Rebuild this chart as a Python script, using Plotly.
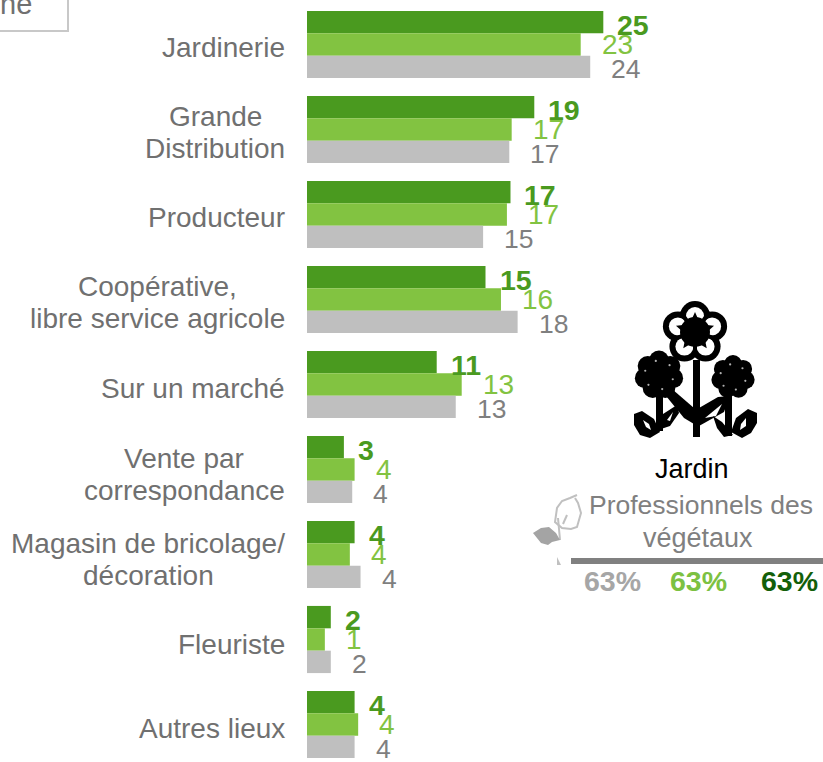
import math
import plotly.graph_objects as go

W, H = 823, 762
categories = ["Jardinerie", "Grande<br>Distribution", "Producteur",
              "Coopérative,<br>libre service agricole", "Sur un marché",
              "Vente par<br>correspondance", "Magasin de bricolage/<br>décoration",
              "Fleuriste", "Autres lieux"]
dark_values = [24.9, 19.1, 17.1, 15.0, 10.9, 3.1, 4.0, 2.0, 4.0]
light_values = [23.0, 17.2, 16.8, 16.3, 13.0, 4.0, 3.6, 1.5, 4.3]
gray_values = [23.8, 17.0, 14.8, 17.7, 12.5, 3.8, 4.5, 2.0, 4.0]
dark_labels = ["25", "19", "17", "15", "11", "3", "4", "2", "4"]
light_labels = ["23", "17", "17", "16", "13", "4", "4", "1", "4"]
gray_labels = ["24", "17", "15", "18", "13", "4", "4", "2", "4"]

DARK, LIGHT, GRAY = "#4a9a1f", "#82c341", "#bfbfbf"
FONT = "Liberation Sans"
PXU = 11.9
X0 = 307

fig = go.Figure()
for vals, col, name in [(dark_values, DARK, "Série 1"), (light_values, LIGHT, "Série 2"), (gray_values, GRAY, "Série 3")]:
    fig.add_trace(go.Bar(y=categories, x=vals, orientation="h", marker=dict(color=col, line=dict(width=0)),
                         name=name, showlegend=False, hoverinfo="skip"))

ann = []
cat_shift = [-2.5, -2.5, -2.5, -2.5, -3.5, -4.5, -4.5, -5, -3.5]
block_center = [None, 215, None, 157, None, 184, 148, None, None]
LABEL = dict(family=FONT, size=28, color="#707070")
for c, s, bc in zip(categories, cat_shift, block_center):
    lines = c.split("<br>")
    if bc is None:
        ann.append(dict(x=0, y=c, xref="x", yref="y", text=c, showarrow=False, xanchor="right", yanchor="middle",
                        xshift=-20, yshift=s, font=LABEL))
    else:
        for i, t in enumerate(lines):
            ann.append(dict(x=0, y=c, xref="x", yref="y", text=t, showarrow=False, xanchor="center", yanchor="middle",
                            xshift=bc - X0, yshift=s + 16 - 32 * i, font=LABEL))
for labels, vals, col, bold, dx, dy, size in [
    (dark_labels, dark_values, DARK, True, 12, 19.5, 28.5),
    (light_labels, light_values, LIGHT, False, 19, 0, 28),
    (gray_labels, gray_values, "#7f7f7f", False, 19, -24, 26.5),
]:
    for c, v, t in zip(categories, vals, labels):
        txt_ = f"<b>{t}</b>" if bold else t
        ann.append(dict(x=v, y=c, xref="x", yref="y", text=txt_, showarrow=False, xanchor="left", yanchor="middle",
                        xshift=dx, yshift=dy, font=dict(family=FONT, size=size, color=col)))

def txt(x, y, t, size, col, anchor="center"):
    ann.append(dict(x=x / W, y=1 - y / H, xref="paper", yref="paper", text=t, showarrow=False,
                    xanchor=anchor, yanchor="middle", font=dict(family=FONT, size=size, color=col)))

txt(701, 505, "Professionnels des", 26.5, "#808080")
txt(698, 538, "végétaux", 27, "#808080")
txt(692, 469, "Jardin", 27, "#000000")
txt(612, 581, "<b>63%</b>", 28.5, "#a6a6a6")
txt(698, 581, "<b>63%</b>", 28.5, "#7cc142")
txt(789, 581, "<b>63%</b>", 28.5, "#135f0a")
txt(34, 4, "ne", 29, "#707070", "right")

shapes = []
def px(x): return x / W
def py(y): return 1 - y / H
def rect(x0, y0, x1, y1, col):
    shapes.append(dict(type="rect", xref="paper", yref="paper", x0=px(x0), x1=px(x1), y0=py(y1), y1=py(y0),
                       fillcolor=col, line=dict(width=0), layer="above"))
def circ(cx, cy, r, col):
    shapes.append(dict(type="circle", xref="paper", yref="paper", x0=px(cx - r), x1=px(cx + r), y0=py(cy + r), y1=py(cy - r),
                       fillcolor=col, line=dict(width=0), layer="above"))
def poly(pts, col, lw=0, lc=None, close=True):
    d = "M " + " L ".join(f"{px(a):.5f},{py(b):.5f}" for a, b in pts) + (" Z" if close else "")
    shapes.append(dict(type="path", xref="paper", yref="paper", path=d, fillcolor=col if close else "rgba(0,0,0,0)",
                       line=dict(width=lw, color=lc or col), layer="above"))

# top-left box and bar under the caption
poly([(68, -2), (68, 31), (-2, 31)], "#c8c8c8", 2, "#c8c8c8", close=False)
rect(571, 558, 823, 564, "#808080")
poly([(557, 557), (561, 565), (557, 565)], "#c0c0c0")

# flower icon: top flower
K = "#000000"
WH = "#ffffff"
petals = [(-90, 16), (-18, 18), (54, 18), (126, 18), (198, 18)]
for a, d in petals:
    cx = 695 + d * math.cos(math.radians(a)); cy = 332 + d * math.sin(math.radians(a))
    circ(cx, cy, 15, K)
for a, d in petals:
    cx = 695 + d * math.cos(math.radians(a)); cy = 332 + d * math.sin(math.radians(a))
    circ(cx, cy, 9, WH)
circ(695, 332, 15, K)
for a, d in petals:
    poly([(695 + 10 * math.cos(math.radians(a - 30)), 332 + 10 * math.sin(math.radians(a - 30))),
          (695 + 20 * math.cos(math.radians(a)), 332 + 20 * math.sin(math.radians(a))),
          (695 + 10 * math.cos(math.radians(a + 30)), 332 + 10 * math.sin(math.radians(a + 30)))], K)
    poly([(695, 332), (695 + 25 * math.cos(math.radians(a + 36)), 332 + 25 * math.sin(math.radians(a + 36)))], K, 4, K, close=False)
# side flowers
for cx, cy, r in [(659, 375, 24), (733, 377, 21.5)]:
    for i in range(7):
        a = i * 2 * math.pi / 7 - math.pi / 2
        circ(cx + r * 0.6 * math.cos(a), cy + r * 0.6 * math.sin(a), r * 0.42, K)
    circ(cx, cy, r * 0.7, K)
    for i in range(6):
        a = i * 2 * math.pi / 6 + 0.3
        circ(cx + r * 0.6 * math.cos(a), cy + r * 0.6 * math.sin(a), 1.1, "#b0b0b0")
# stems
rect(693, 360, 700, 437, K)
rect(656, 395, 663, 431, K)
rect(725, 395, 732, 436, K)
# diagonal bracts
poly([(662, 391), (672, 389), (694, 408), (694, 424), (684, 418)], K)
poly([(730, 396), (718, 397), (699, 408), (699, 426), (724, 412)], K)
poly([(705, 418), (722, 404), (716, 416)], WH)
# outer leaves
poly([(634, 414), (642, 411), (654, 419), (660, 432), (650, 438), (640, 435), (634, 425)], K)
poly([(643, 420), (649, 424), (651, 430), (646, 427)], WH)
poly([(757, 413), (748, 409), (736, 418), (731, 432), (742, 438), (751, 433), (757, 423)], K)
poly([(746, 418), (741, 424), (740, 430), (746, 426)], WH)
poly([(658, 430), (663, 414), (677, 405), (679, 413), (670, 426)], K)
poly([(667, 420), (673, 412), (670, 421)], WH)
poly([(733, 435), (722, 422), (713, 416), (717, 428), (724, 437)], K)

# leaf icon
LG = "#c0c0c0"
poly([(577, 495), (570, 498), (562, 501), (557, 508), (555, 522), (562, 528), (571, 529), (577, 527), (581, 513), (578, 503), (575, 498)],
     "rgba(0,0,0,0)", 2, LG, close=False)
poly([(558, 518), (560, 540)], "rgba(0,0,0,0)", 2, LG, close=False)
poly([(567, 515), (563, 524)], "rgba(0,0,0,0)", 2, LG, close=False)
poly([(533, 533), (541, 528), (549, 527), (556, 533), (560, 540), (552, 542), (548, 545), (541, 543)], "#a4a4a4")

fig.update_layout(
    width=W, height=H, autosize=False, margin=dict(l=0, r=0, t=0, b=0),
    paper_bgcolor="#ffffff", plot_bgcolor="#ffffff",
    barmode="group", bargap=0.21, bargroupgap=0,
    xaxis=dict(domain=[X0 / W, 1], range=[0, (W - X0) / PXU], visible=False),
    yaxis=dict(range=[(H - 44.5) / 85, -44.5 / 85], type="category", categoryorder="array", categoryarray=categories,
               showticklabels=False, ticks="", showgrid=False, zeroline=False, showline=False),
    annotations=ann, shapes=shapes, showlegend=False,
)
fig.write_html("out.html", config=dict(displayModeBar=False),
               post_script="document.body.style.margin='0';document.body.style.overflow='hidden';")
